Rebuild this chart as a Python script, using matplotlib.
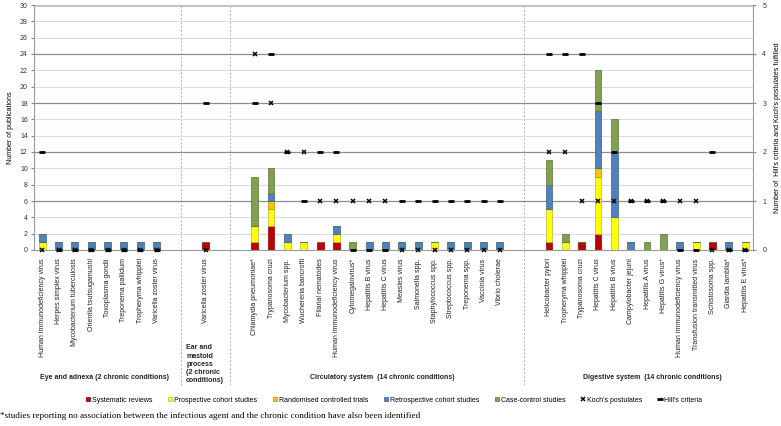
import matplotlib
matplotlib.use("Agg")
import matplotlib.pyplot as plt
from matplotlib.patches import Patch
from matplotlib.lines import Line2D

plt.rcParams['font.family'] = ['Liberation Sans', 'DejaVu Sans']

# agents per chapter of chronic conditions
eye_agents = ["Human immunodeficiency virus", "Herpes simplex virus", "Mycobacterium tuberculosis",
              "Orientia tsutsugamushi", "Toxoplasma gondii", "Treponema pallidum",
              "Tropheryma whipplei", "Varicella zoster virus"]
ear_agents = ["Varicella zoster virus"]
circ_agents = ["Chlamydia pneumoniae*", "Trypanosoma cruzi", "Mycobacterium spp.", "Wuchereria bancrofti",
               "Filarial nematodes", "Human immunodeficiency virus", "Cytomegalovirus*", "Hepatitis B virus",
               "Hepatitis C virus", "Measles virus", "Salmonella spp.", "Staphylococcus spp.",
               "Streptococcus spp.", "Treponema spp.", "Vaccinia virus", "Vibrio cholerae"]
dig_agents = ["Helicobacter pylori", "Tropheryma whipplei", "Trypanosoma cruzi", "Hepatitis C virus",
              "Hepatitis B virus", "Campylobacter jejuni", "Hepatitis A virus", "Hepatitis G virus*",
              "Human immunodeficiency virus", "Transfusion transmitted virus", "Schistosoma spp.",
              "Giardia lamblia*", "Hepatitis E virus*"]
group_names = ["Eye and adnexa (2 chronic conditions)",
               "Ear and\nmastoid\nprocess\n(2 chronic\nconditions)",
               "Circulatory system  (14 chronic conditions)",
               "Digestive system  (14 chronic conditions)"]

# number of publications by study type (eye | ear | circulatory | digestive)
systematic    = [0, 0, 0, 0, 0, 0, 0, 0] + [1] + [1, 3, 0, 0, 1, 1, 0, 0, 0, 0, 0, 0, 0, 0, 0, 0] + [1, 0, 1, 2, 0, 0, 0, 0, 0, 0, 1, 0, 0]
prospective   = [1, 0, 0, 0, 0, 0, 0, 0] + [0] + [2, 2, 1, 1, 0, 1, 0, 0, 0, 0, 0, 1, 0, 0, 0, 0] + [4, 1, 0, 7, 4, 0, 0, 0, 0, 1, 0, 0, 1]
randomised    = [0, 0, 0, 0, 0, 0, 0, 0] + [0] + [0, 1, 0, 0, 0, 0, 0, 0, 0, 0, 0, 0, 0, 0, 0, 0] + [0, 0, 0, 1, 0, 0, 0, 0, 0, 0, 0, 0, 0]
retrospective = [1, 1, 1, 1, 1, 1, 1, 1] + [0] + [0, 1, 1, 0, 0, 1, 0, 1, 1, 1, 1, 0, 1, 1, 1, 1] + [3, 0, 0, 7, 8, 1, 0, 0, 1, 0, 0, 1, 0]
case_control  = [0, 0, 0, 0, 0, 0, 0, 0] + [0] + [6, 3, 0, 0, 0, 0, 1, 0, 0, 0, 0, 0, 0, 0, 0, 0] + [3, 1, 0, 5, 4, 0, 1, 2, 0, 0, 0, 0, 0]
# criteria fulfilled (right axis)
koch = [0, 0, 0, 0, 0, 0, 0, 0] + [0] + [4, 3, 2, 2, 1, 1, 1, 1, 1, 0, 0, 0, 0, 0, 0, 0] + [2, 2, 1, 1, 1, 1, 1, 1, 1, 1, 0, 0, 0]
hill = [2, 0, 0, 0, 0, 0, 0, 0] + [3] + [3, 4, 2, 1, 2, 2, 0, 0, 0, 1, 1, 1, 1, 1, 1, 1] + [4, 4, 4, 3, 2, 1, 1, 1, 0, 0, 2, 0, 0]

# x positions: two empty slots between chapters
groups = [eye_agents, ear_agents, circ_agents, dig_agents]
xpos, labels, dividers, spans = [], [], [], []
start = 0
for g in groups:
    pos = list(range(start, start + len(g)))
    xpos += pos
    labels += g
    spans.append((pos[0], pos[-1]))
    dividers.append(pos[-1] + 1.5)
    start = pos[-1] + 3
dividers = dividers[:-1]

fig = plt.figure(figsize=(7.81, 4.26), dpi=100)
W, H = 781, 426
ax = fig.add_axes([34 / W, 1 - 250 / H, (753.3 - 34) / W, 245 / H])

series = [(systematic, "#C00000", "#8B0000", "Systematic reviews"),
          (prospective, "#FFFF00", "#B5B54A", "Prospective cohort studies"),
          (randomised, "#FFC000", "#C08A00", "Randomised controlled trials"),
          (retrospective, "#4F81BD", "#385D8A", "Retrospective cohort studies"),
          (case_control, "#83A050", "#5A7532", "Case-control studies")]

bottom = [0] * len(xpos)
for vals, col, ec, name in series:
    ax.bar(xpos, vals, bottom=bottom, width=0.42, color=col, edgecolor=ec, linewidth=0.5, zorder=3)
    bottom = [b + v for b, v in zip(bottom, vals)]

ax.set_xlim(-0.5, xpos[-1] + 0.5)
ax.set_ylim(0, 30)
ax.set_yticks(range(0, 31, 2))
for y in range(2, 30, 2):
    if y % 6 == 0:
        ax.axhline(y, color="#8c8c8c", lw=0.9, zorder=1)
    else:
        ax.axhline(y, color="#dcdcdc", lw=0.8, zorder=1)
ax.axhline(30, color="#c0c0c0", lw=2, zorder=1)

ax.set_xticks(xpos)
ax.set_xticklabels(labels, rotation=90, fontsize=5, color="#222222")
ax.tick_params(axis="x", length=0, pad=6)
ax.tick_params(axis="y", labelsize=5, length=2.5, color="#888888", labelcolor="#333333", pad=2)
for s in ["top", "right"]:
    ax.spines[s].set_visible(False)
ax.spines["left"].set_color("#999999")
ax.spines["bottom"].set_color("#999999")
ax.set_ylabel("Number of publications", fontsize=5)
ax.yaxis.set_label_coords(-0.028, 0.5)

ax2 = ax.twinx()
ax2.set_ylim(0, 5)
ax2.set_yticks(range(0, 6))
ax2.tick_params(axis="y", labelsize=5, length=2.5, color="#888888", labelcolor="#333333", pad=4)
for s in ["top", "left", "bottom"]:
    ax2.spines[s].set_visible(False)
ax2.spines["right"].set_color("#999999")
ax2.set_ylabel("Number of  Hill's criteria and Koch's postulates fulfilled", fontsize=5)
ax2.yaxis.set_label_coords(1.029, 0.5)
ax2.plot(xpos, hill, ls="none", marker="_", ms=5, mew=2, color="black", clip_on=False, zorder=5)
ax2.plot(xpos, koch, ls="none", marker="x", ms=3.5, mew=1.1, color="black", clip_on=False, zorder=6)

for d in dividers:
    ax.axvline(d, ymin=-0.55, ymax=1.0, color="#b0b0b0", lw=0.7, ls=(0, (2, 2)), clip_on=False, zorder=0)

tr = ax.get_xaxis_transform()
for i, (name, (a, b)) in enumerate(zip(group_names, spans)):
    if i == 1:
        ax.text(a - 1.2, -0.385, name, transform=tr, ha="left", va="top", fontsize=5,
                fontweight="bold", linespacing=1.25, color="#222222")
    else:
        ax.text((a + b) / 2 + 0.3, -0.521, name, transform=tr, ha="center", va="center",
                fontsize=5, fontweight="bold", color="#222222")

handles = [Patch(facecolor=c, edgecolor=e, lw=0.5, label=n) for _, c, e, n in series]
handles.append(Line2D([], [], ls="none", marker="x", ms=3.5, mew=1.1, color="black", label="Koch's postulates"))
handles.append(Line2D([], [], ls="none", marker="_", ms=5, mew=2, color="black", label="Hill's criteria"))
fig.legend(handles=handles, loc="center", bbox_to_anchor=(394 / W, 1 - 400 / H), ncol=7, frameon=False,
           fontsize=5, handlelength=0.6, handleheight=0.6, handletextpad=0.3, columnspacing=2.2)

fig.text(0.0, 1 - 416 / H, "*studies reporting no association between the infectious agent and the chronic "
         "condition have also been identified", family="Liberation Serif", fontsize=6.6, va="center", ha="left")

fig.savefig("out.png", dpi=100)
